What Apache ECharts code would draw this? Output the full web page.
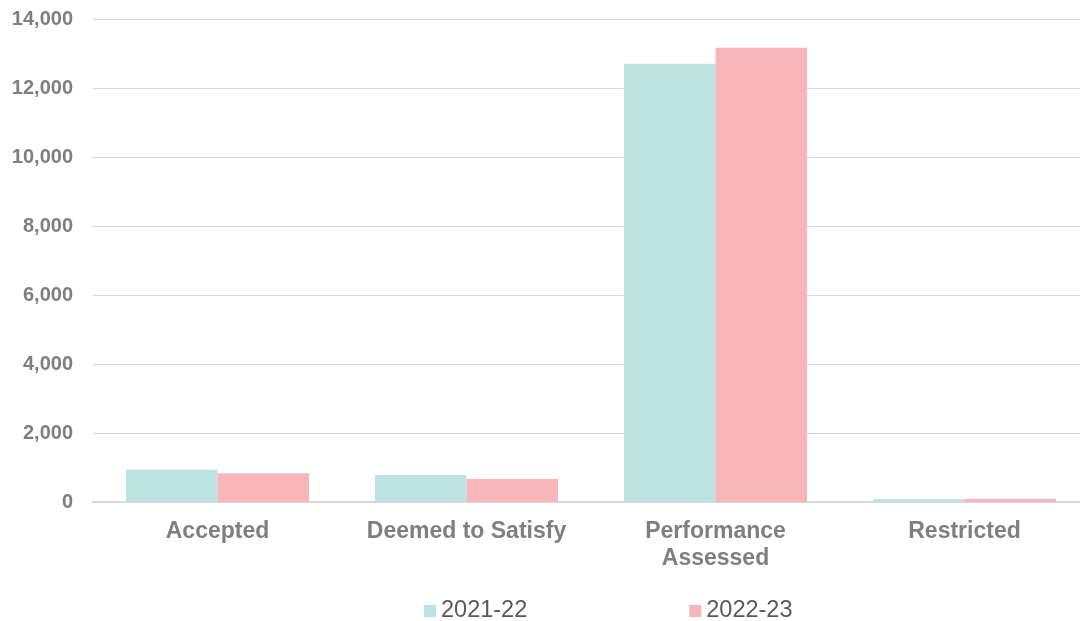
<!DOCTYPE html>
<html>
<head>
<meta charset="utf-8">
<script src="https://cdn.jsdelivr.net/npm/echarts@6/dist/echarts.min.js"></script>
<style>
  html, body { margin: 0; padding: 0; background: #fff; }
  #chart { width: 1080px; height: 621px; }
</style>
</head>
<body>
<div id="chart"></div>
<script>
// Assessment pathway counts by financial year
const categories = ['Accepted', 'Deemed to Satisfy', 'Performance\nAssessed', 'Restricted'];
const seriesNames = ['2021-22', '2022-23'];
const values2021 = [936, 783, 12700, 90];
const values2022 = [832, 667, 13170, 90];
const colors = ['#bde3e3', '#f8b6ba'];

const chart = echarts.init(document.getElementById('chart'), null, { renderer: 'canvas' });

chart.setOption({
  animation: false,
  color: colors,
  grid: { left: 93, top: 19, right: -9, bottom: 119, containLabel: false, outerBoundsMode: 'none' },
  legend: {
    top: 594,
    left: 419,
    itemWidth: 12,
    itemHeight: 12,
    itemGap: 162,
    icon: 'rect',
    textStyle: { color: '#595959', fontSize: 23.5, fontFamily: 'Liberation Sans, Arial, sans-serif' },
    data: seriesNames
  },
  xAxis: {
    type: 'category',
    data: categories,
    axisLine: { lineStyle: { color: '#d9d9d9', width: 2 } },
    axisTick: { show: false },
    axisLabel: {
      interval: 0,
      hideOverlap: false,
      color: '#7f7f7f',
      fontSize: 23,
      fontWeight: 'bold',
      fontFamily: 'Liberation Sans, Arial, sans-serif',
      margin: 16,
      lineHeight: 27
    }
  },
  yAxis: {
    type: 'value',
    min: 0,
    max: 14000,
    interval: 2000,
    axisLine: { show: false },
    axisTick: { show: false },
    splitLine: { lineStyle: { color: '#d9d9d9', width: 1 } },
    axisLabel: {
      color: '#7f7f7f',
      fontSize: 20,
      fontWeight: 'bold',
      fontFamily: 'Liberation Sans, Arial, sans-serif',
      margin: 20,
      formatter: v => v.toLocaleString('en-US')
    }
  },
  series: [
    { name: seriesNames[0], type: 'bar', data: values2021, barGap: '0%', barCategoryGap: '26.5%' },
    { name: seriesNames[1], type: 'bar', data: values2022, barGap: '0%', barCategoryGap: '26.5%' }
  ]
});
</script>
</body>
</html>
